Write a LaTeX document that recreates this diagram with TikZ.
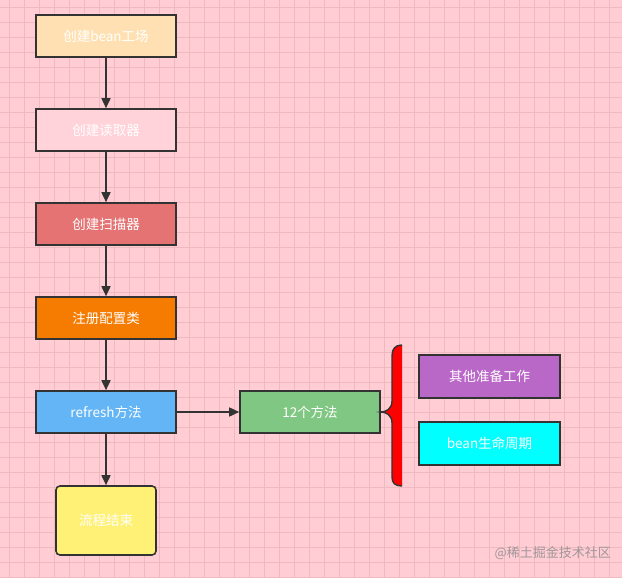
\documentclass[tikz,border=0pt]{standalone}
\usepackage{fontspec}
\newfontfamily\cjk{Noto Sans CJK SC}
\usetikzlibrary{arrows.meta}

\definecolor{bgpink}{HTML}{FFCDD3}
\definecolor{gridpink}{HTML}{EFB9C0}
\definecolor{edgedark}{HTML}{333333}
\definecolor{factoryfill}{HTML}{FFE0B2}
\definecolor{readerfill}{HTML}{FFD3D9}
\definecolor{scannerfill}{HTML}{E57373}
\definecolor{configfill}{HTML}{F57C00}
\definecolor{refreshfill}{HTML}{64B5F6}
\definecolor{endfill}{HTML}{FFF176}
\definecolor{methodsfill}{HTML}{81C784}
\definecolor{otherfill}{HTML}{BA68C8}
\definecolor{lifefill}{HTML}{00FFFF}
\definecolor{markgray}{HTML}{A0979A}

\begin{document}
\begin{tikzpicture}[
  x=1pt, y=-1pt,
  box/.style={draw=edgedark, line width=1.6pt, text=white, font=\cjk\fontsize{13.5}{15}\selectfont,
              minimum width=140pt, minimum height=42pt, inner sep=0pt},
  factory/.style={box, fill=factoryfill},
  reader/.style={box, fill=readerfill},
  scanner/.style={box, fill=scannerfill},
  config/.style={box, fill=configfill},
  refresh/.style={box, fill=refreshfill},
  finish/.style={box, fill=endfill, rounded corners=4pt, minimum width=100pt, minimum height=69pt},
  methods/.style={box, fill=methodsfill},
  other/.style={box, fill=otherfill, minimum width=141pt, minimum height=43pt},
  life/.style={box, fill=lifefill, minimum width=141pt, minimum height=43pt},
  link/.style={draw=edgedark, line width=1.6pt, ->, >={Triangle[length=10pt,width=9pt]}}
]
  % background and grid
  \fill[bgpink] (0,0) rectangle (622,578);
  \useasboundingbox (0,0) rectangle (622,578);
  \foreach \gx in {9,24,...,619}
    \draw[gridpink, line width=0.6pt] (\gx,0) -- (\gx,578);
  \foreach \gy in {7,22,...,577}
    \draw[gridpink, line width=0.6pt] (0,\gy) -- (622,\gy);

  % main flow
  \node[factory] (fac) at (106,36) {创建bean工场};
  \node[reader] (rd) at (106,130) {创建读取器};
  \node[scanner] (sc) at (106,224) {创建扫描器};
  \node[config] (cfg) at (106,318) {注册配置类};
  \node[refresh] (rf) at (106,412) {refresh方法};
  \node[finish] (fin) at (106,520.5) {流程结束};
  \draw[link] (fac) -- (rd);
  \draw[link] (rd) -- (sc);
  \draw[link] (sc) -- (cfg);
  \draw[link] (cfg) -- (rf);
  \draw[link] (rf) -- (fin);

  % side branch
  \node[methods] (mt) at (310,412) {12个方法};
  \draw[link] (rf) -- (mt);
  \node[other] (oth) at (489.5,376.5) {其他准备工作};
  \node[life] (lf) at (489.5,443.5) {bean生命周期};

  % brace
  \coordinate (tip) at (mt.east);
  \fill[red] (402,345) .. controls (395,345) and (392,349) .. (392,356) -- (392,401)
    .. controls (392,409) and (386,412) .. (tip) .. controls (386,412) and (392,415) .. (392,423)
    -- (392,477) .. controls (392,483) and (395,486) .. (402,486) -- cycle;
  \draw[edgedark, line width=1.4pt] (402,345) .. controls (395,345) and (392,349) .. (392,356) -- (392,401)
    .. controls (392,409) and (386,412) .. (tip) .. controls (386,412) and (392,415) .. (392,423)
    -- (392,477) .. controls (392,483) and (395,486) .. (402,486);

  % watermark
  \node[anchor=east, text=markgray, font=\cjk\fontsize{13}{15}\selectfont, inner sep=0pt] (mark)
    at (611,553) {@稀土掘金技术社区};
\end{tikzpicture}
\end{document}
